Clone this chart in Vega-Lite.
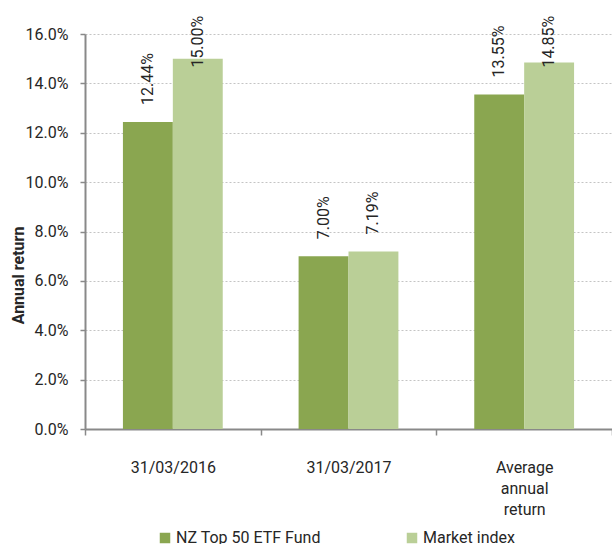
{
  "$schema": "https://vega.github.io/schema/vega-lite/v6.json",
  "width": 527,
  "height": 395,
  "autosize": {"type": "none"},
  "padding": {"left": 85, "top": 34, "right": 0, "bottom": 115},
  "background": "white",
  "config": {
    "view": {"stroke": null},
    "font": "Roboto",
    "axis": {"labelFont": "Roboto", "titleFont": "Roboto", "labelColor": "#262626", "titleColor": "#262626"},
    "legend": {"labelFont": "Roboto", "labelColor": "#262626"}
  },
  "data": {
    "values": [
      {"period": "31/03/2016", "series": "NZ Top 50 ETF Fund", "value": 0.1244},
      {"period": "31/03/2016", "series": "Market index", "value": 0.15},
      {"period": "31/03/2017", "series": "NZ Top 50 ETF Fund", "value": 0.07},
      {"period": "31/03/2017", "series": "Market index", "value": 0.0719},
      {"period": "Average annual return", "series": "NZ Top 50 ETF Fund", "value": 0.1355},
      {"period": "Average annual return", "series": "Market index", "value": 0.1485}
    ]
  },
  "encoding": {
    "x": {
      "field": "period",
      "type": "nominal",
      "sort": null,
      "scale": {"paddingInner": 0, "paddingOuter": 0},
      "axis": {
        "title": null,
        "labelAngle": 0,
        "labelFontSize": 16,
        "labelLineHeight": 21,
        "labelPadding": 24,
        "labelExpr": "datum.value == 'Average annual return' ? ['Average', 'annual', 'return'] : datum.value",
        "tickBand": "extent",
        "tickSize": 6,
        "tickColor": "#898989",
        "tickWidth": 1.5,
        "domainColor": "#898989",
        "domainWidth": 2,
        "grid": false
      }
    },
    "xOffset": {
      "field": "series",
      "type": "nominal",
      "sort": ["NZ Top 50 ETF Fund", "Market index"],
      "scale": {"paddingInner": 0, "paddingOuter": 0.76}
    }
  },
  "layer": [
    {
      "mark": {"type": "bar"},
      "encoding": {
        "y": {
          "field": "value",
          "type": "quantitative",
          "scale": {"domain": [0, 0.16], "nice": false},
          "axis": {
            "title": "Annual return",
            "titleFontSize": 16,
            "titleFontWeight": "bold",
            "titleX": -67,
            "titleY": 241,
            "titleAngle": -90,
            "titleAlign": "center",
            "titleBaseline": "middle",
            "format": ".1%",
            "values": [0, 0.02, 0.04, 0.06, 0.08, 0.1, 0.12, 0.14, 0.16],
            "labelFontSize": 16,
            "labelPadding": 12,
            "tickSize": 5,
            "tickColor": "#898989",
            "tickWidth": 1.5,
            "domainColor": "#898989",
            "domainWidth": 2,
            "gridColor": "#C4C4C4",
            "gridDash": [2, 2],
            "gridWidth": 1
          }
        },
        "color": {
          "field": "series",
          "type": "nominal",
          "scale": {"domain": ["NZ Top 50 ETF Fund", "Market index"], "range": ["#8AA650", "#BACF97"]},
          "legend": {
            "title": null,
            "orient": "none",
            "legendX": 72,
            "legendY": 496,
            "direction": "horizontal",
            "columnPadding": 83,
            "symbolType": "square",
            "symbolSize": 110,
            "symbolStrokeWidth": 0,
            "labelFontSize": 16,
            "labelOffset": 3
          }
        }
      }
    },
    {
      "transform": [{"calculate": "min(datum.value, 0.1395)", "as": "labelPos"}],
      "mark": {"type": "text", "angle": 270, "align": "left", "baseline": "middle", "dx": 17, "fontSize": 16, "color": "#262626"},
      "encoding": {
        "y": {"field": "labelPos", "type": "quantitative"},
        "text": {"field": "value", "type": "quantitative", "format": ".2%"}
      }
    }
  ]
}
